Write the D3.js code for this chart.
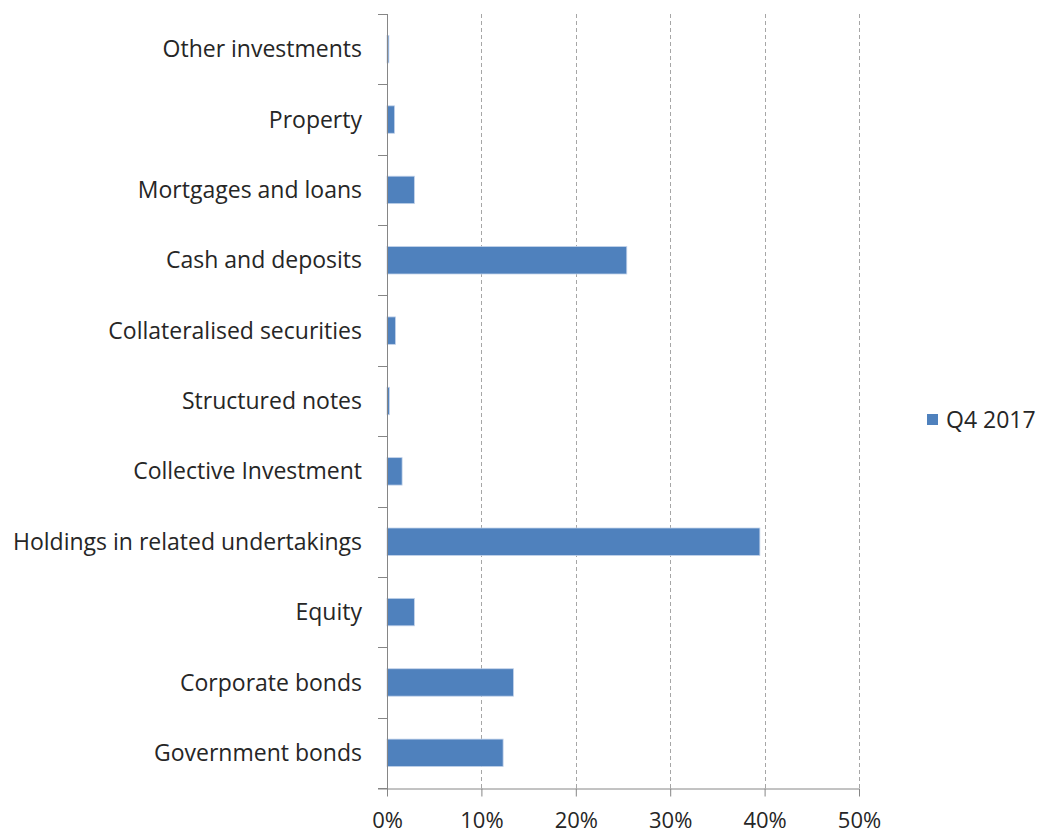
<!DOCTYPE html>
<html>
<head>
<meta charset="utf-8">
<script src="https://cdn.jsdelivr.net/npm/d3@7"></script>
<style>
  html, body { margin: 0; padding: 0; background: #fff; }
  svg text { font-family: "Open Sans", "Noto Sans", sans-serif; fill: #262626; }
</style>
</head>
<body>
<svg id="chart" width="1038" height="834"></svg>
<script>
const categories = [
  "Other investments",
  "Property",
  "Mortgages and loans",
  "Cash and deposits",
  "Collateralised securities",
  "Structured notes",
  "Collective Investment",
  "Holdings in related undertakings",
  "Equity",
  "Corporate bonds",
  "Government bonds"
];
const seriesName = "Q4 2017";
const values = [0.002, 0.008, 0.029, 0.254, 0.009, 0.0025, 0.016, 0.395, 0.029, 0.134, 0.123];
const xTicks = [0, 0.1, 0.2, 0.3, 0.4, 0.5];

const svg = d3.select("#chart");
const margin = { left: 387, top: 14, right: 1038 - 859, bottom: 834 - 788 };
const W = 1038, H = 834;
const x = d3.scaleLinear().domain([0, 0.5]).range([margin.left, W - margin.right]);
const y = d3.scaleBand().domain(categories).range([margin.top, H - margin.bottom]).paddingInner(0.61).paddingOuter(0.305);
const yb = d3.scaleBand().domain(categories).range([margin.top, H - margin.bottom]);
const axisColor = "#868686";

// gridlines
svg.append("g").selectAll("line").data(xTicks.filter(d => d > 0)).join("line")
  .attr("x1", d => Math.round(x(d)) + 0.5).attr("x2", d => Math.round(x(d)) + 0.5)
  .attr("y1", margin.top).attr("y2", H - margin.bottom)
  .attr("stroke", "#a6a6a6").attr("stroke-width", 1).attr("stroke-dasharray", "4,3");

// bars
svg.append("g").selectAll("rect").data(values).join("rect")
  .attr("x", x(0))
  .attr("y", (d, i) => y(categories[i]))
  .attr("width", d => x(d) - x(0))
  .attr("height", y.bandwidth())
  .attr("fill", "#4f81bd")
  .attr("stroke", "#c3d3ea").attr("stroke-width", 0.8);

// x axis
const xAxis = d3.axisBottom(x).tickValues(xTicks).tickFormat(d3.format(".0%")).tickSize(8).tickPadding(16);
const gx = svg.append("g").attr("transform", `translate(0,${H - margin.bottom + 0.5})`).call(xAxis);
gx.select(".domain").attr("stroke", axisColor).attr("d", `M${x(0) - 9},0.5H${x(0.5)}`);
gx.selectAll(".tick line").attr("stroke", axisColor);
gx.selectAll(".tick text").attr("font-size", 22).attr("fill", "#262626");

// y axis: line + ticks at band boundaries
const gy = svg.append("g");
gy.append("line").attr("x1", Math.round(x(0)) + 0.5).attr("x2", Math.round(x(0)) + 0.5)
  .attr("y1", margin.top).attr("y2", H - margin.bottom + 8).attr("stroke", axisColor);
const bounds = categories.map(c => yb(c)).concat([H - margin.bottom]);
gy.selectAll("line.tk").data(bounds).join("line").attr("class", "tk")
  .attr("x1", x(0) - 9).attr("x2", x(0))
  .attr("y1", d => Math.round(d) + 0.5).attr("y2", d => Math.round(d) + 0.5)
  .attr("stroke", axisColor);
gy.selectAll("text").data(categories).join("text")
  .attr("x", x(0) - 25)
  .attr("y", d => yb(d) + yb.bandwidth() / 2)
  .attr("dy", "0.35em")
  .attr("text-anchor", "end")
  .attr("font-size", 23)
  .text(d => d);

// legend
const lg = svg.append("g").attr("transform", "translate(927,414)");
lg.append("rect").attr("width", 11).attr("height", 11).attr("fill", "#4f81bd");
lg.append("text").attr("x", 19).attr("y", 5.5).attr("dy", "0.35em").attr("font-size", 23).text(seriesName);
</script>
</body>
</html>
